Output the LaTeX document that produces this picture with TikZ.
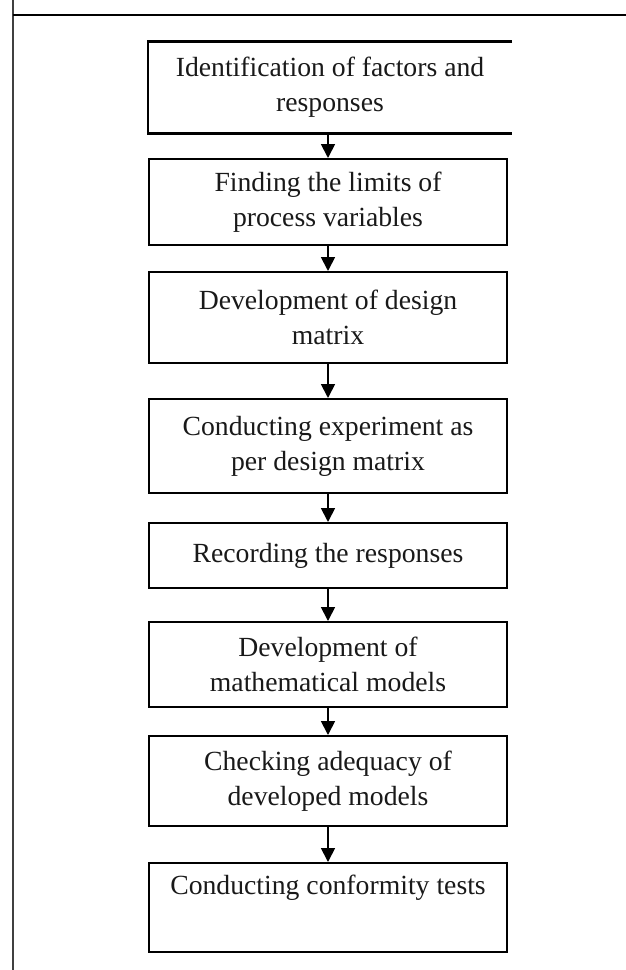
\documentclass[tikz,border=0pt]{standalone}
\usepackage{fontspec}
\setmainfont{Liberation Serif}
\usetikzlibrary{arrows.meta}
\begin{document}
\begin{tikzpicture}[x=1pt,y=-1pt,
  stepbox/.style={draw, line width=2pt, minimum width=358pt, align=center,
    inner sep=0pt, text=black!90, font=\fontsize{27.7}{35}\selectfont},
  flow/.style={line width=1.8pt, -{Triangle[width=14pt,length=14pt]}}]
\useasboundingbox (0,0) rectangle (626,970);
% page frame
\draw[line width=2pt, black!75] (12.5,0) -- (12.5,970);
\draw[line width=2pt] (12.5,14.5) -- (626,14.5);

% process steps
\node[stepbox, draw=none, minimum width=362pt, minimum height=90pt] (s1) at (330,87.5)
  {Identification of factors and\\responses};
\draw[line width=2.4pt] (s1.north east) -- (s1.north west) -- (s1.south west) -- (s1.south east);
\node[stepbox, minimum height=86pt] (s2) at (328,202) {Finding the limits of\\process variables};
\node[stepbox, minimum height=91pt] (s3) at (328,317.5) {Development of design\\matrix};
\node[stepbox, minimum height=94pt] (s4) at (328,446) {Conducting experiment as\\per design matrix};
\node[stepbox, minimum height=65pt] (s5) at (328,555.5) {Recording the responses};
\node[stepbox, minimum height=85pt] (s6) at (328,664.5) {Development of\\mathematical models};
\node[stepbox, minimum height=90pt] (s7) at (328,781) {Checking adequacy of\\developed models};
\node[stepbox, minimum height=89pt] (s8) at (328,907.5) {Conducting conformity tests\\\strut};

% connectors
\draw[flow] (s2.north |- s1.south) -- (s2.north);
\draw[flow] (s2.south) -- (s3.north);
\draw[flow] (s3.south) -- (s4.north);
\draw[flow] (s4.south) -- (s5.north);
\draw[flow] (s5.south) -- (s6.north);
\draw[flow] (s6.south) -- (s7.north);
\draw[flow] (s7.south) -- (s8.north);
\end{tikzpicture}
\end{document}
